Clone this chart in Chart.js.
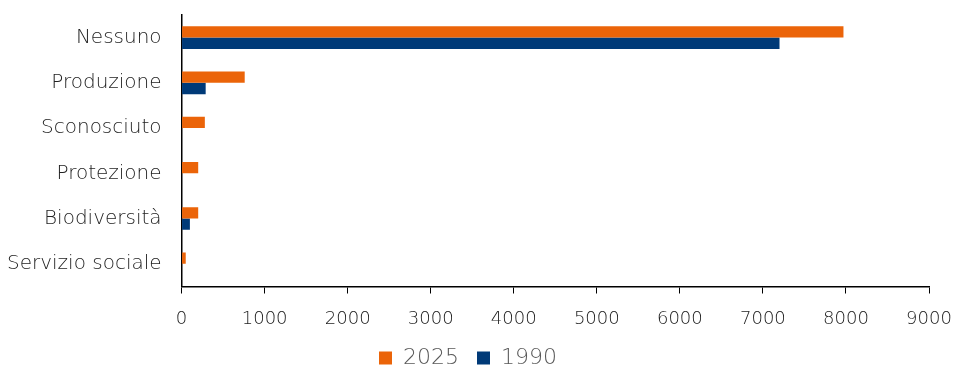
<!DOCTYPE html>
<html>
<head>
<meta charset="utf-8">
<script src="https://cdn.jsdelivr.net/npm/chart.js@4/dist/chart.umd.min.js"></script>
<style>
  html, body { margin: 0; padding: 0; background: #fff; }
  #wrap { width: 955px; height: 369px; position: relative; }
</style>
</head>
<body>
<div id="wrap"><canvas id="chart"></canvas></div>
<script>
// Dati
const categorie = ['Nessuno', 'Produzione', 'Sconosciuto', 'Protezione', 'Biodiversità', 'Servizio sociale'];
const valori2025 = [7970, 760, 280, 200, 200, 50];
const valori1990 = [7200, 290, 0, 0, 100, 0];
const tickX = [0, 1000, 2000, 3000, 4000, 5000, 6000, 7000, 8000, 9000];

const font = '"DejaVu Sans", sans-serif';

new Chart(document.getElementById('chart'), {
  type: 'bar',
  data: {
    labels: categorie,
    datasets: [
      { label: '2025', data: valori2025, backgroundColor: '#EB6409' },
      { label: '1990', data: valori1990, backgroundColor: '#003A78' }
    ]
  },
  options: {
    indexAxis: 'y',
    responsive: true,
    maintainAspectRatio: false,
    animation: false,
    layout: { padding: { top: 15, right: 26, left: 7, bottom: -10 } },
    datasets: { bar: { categoryPercentage: 0.5, barPercentage: 1 } },
    plugins: {
      tooltip: { enabled: false },
      legend: {
        position: 'bottom',
        labels: {
          font: { family: font, size: 22, weight: 200 },
          color: '#595959',
          boxWidth: 13,
          boxHeight: 13,
          padding: 18
        }
      }
    },
    scales: {
      x: {
        min: 0,
        max: 9000,
        afterBuildTicks: axis => { axis.ticks = tickX.map(v => ({ value: v })); },
        afterFit: axis => { axis.height -= 1; },
        // trattino di 6px, poi spazio fino all'etichetta
        grid: { drawOnChartArea: false, drawTicks: true, tickLength: 22, color: '#000', tickBorderDash: [6, 60] },
        border: { color: '#000', width: 1.5 },
        ticks: {
          font: { family: font, size: 18, weight: 200 }, color: '#222', padding: 0,
          callback: v => String(v)
        }
      },
      y: {
        grid: { drawOnChartArea: false, drawTicks: true, tickLength: 20, color: 'rgba(0,0,0,0)' },
        border: { color: '#000', width: 1.5 },
        ticks: { font: { family: font, size: 20, weight: 200 }, color: '#222', padding: 0 }
      }
    }
  }
});
</script>
</body>
</html>
